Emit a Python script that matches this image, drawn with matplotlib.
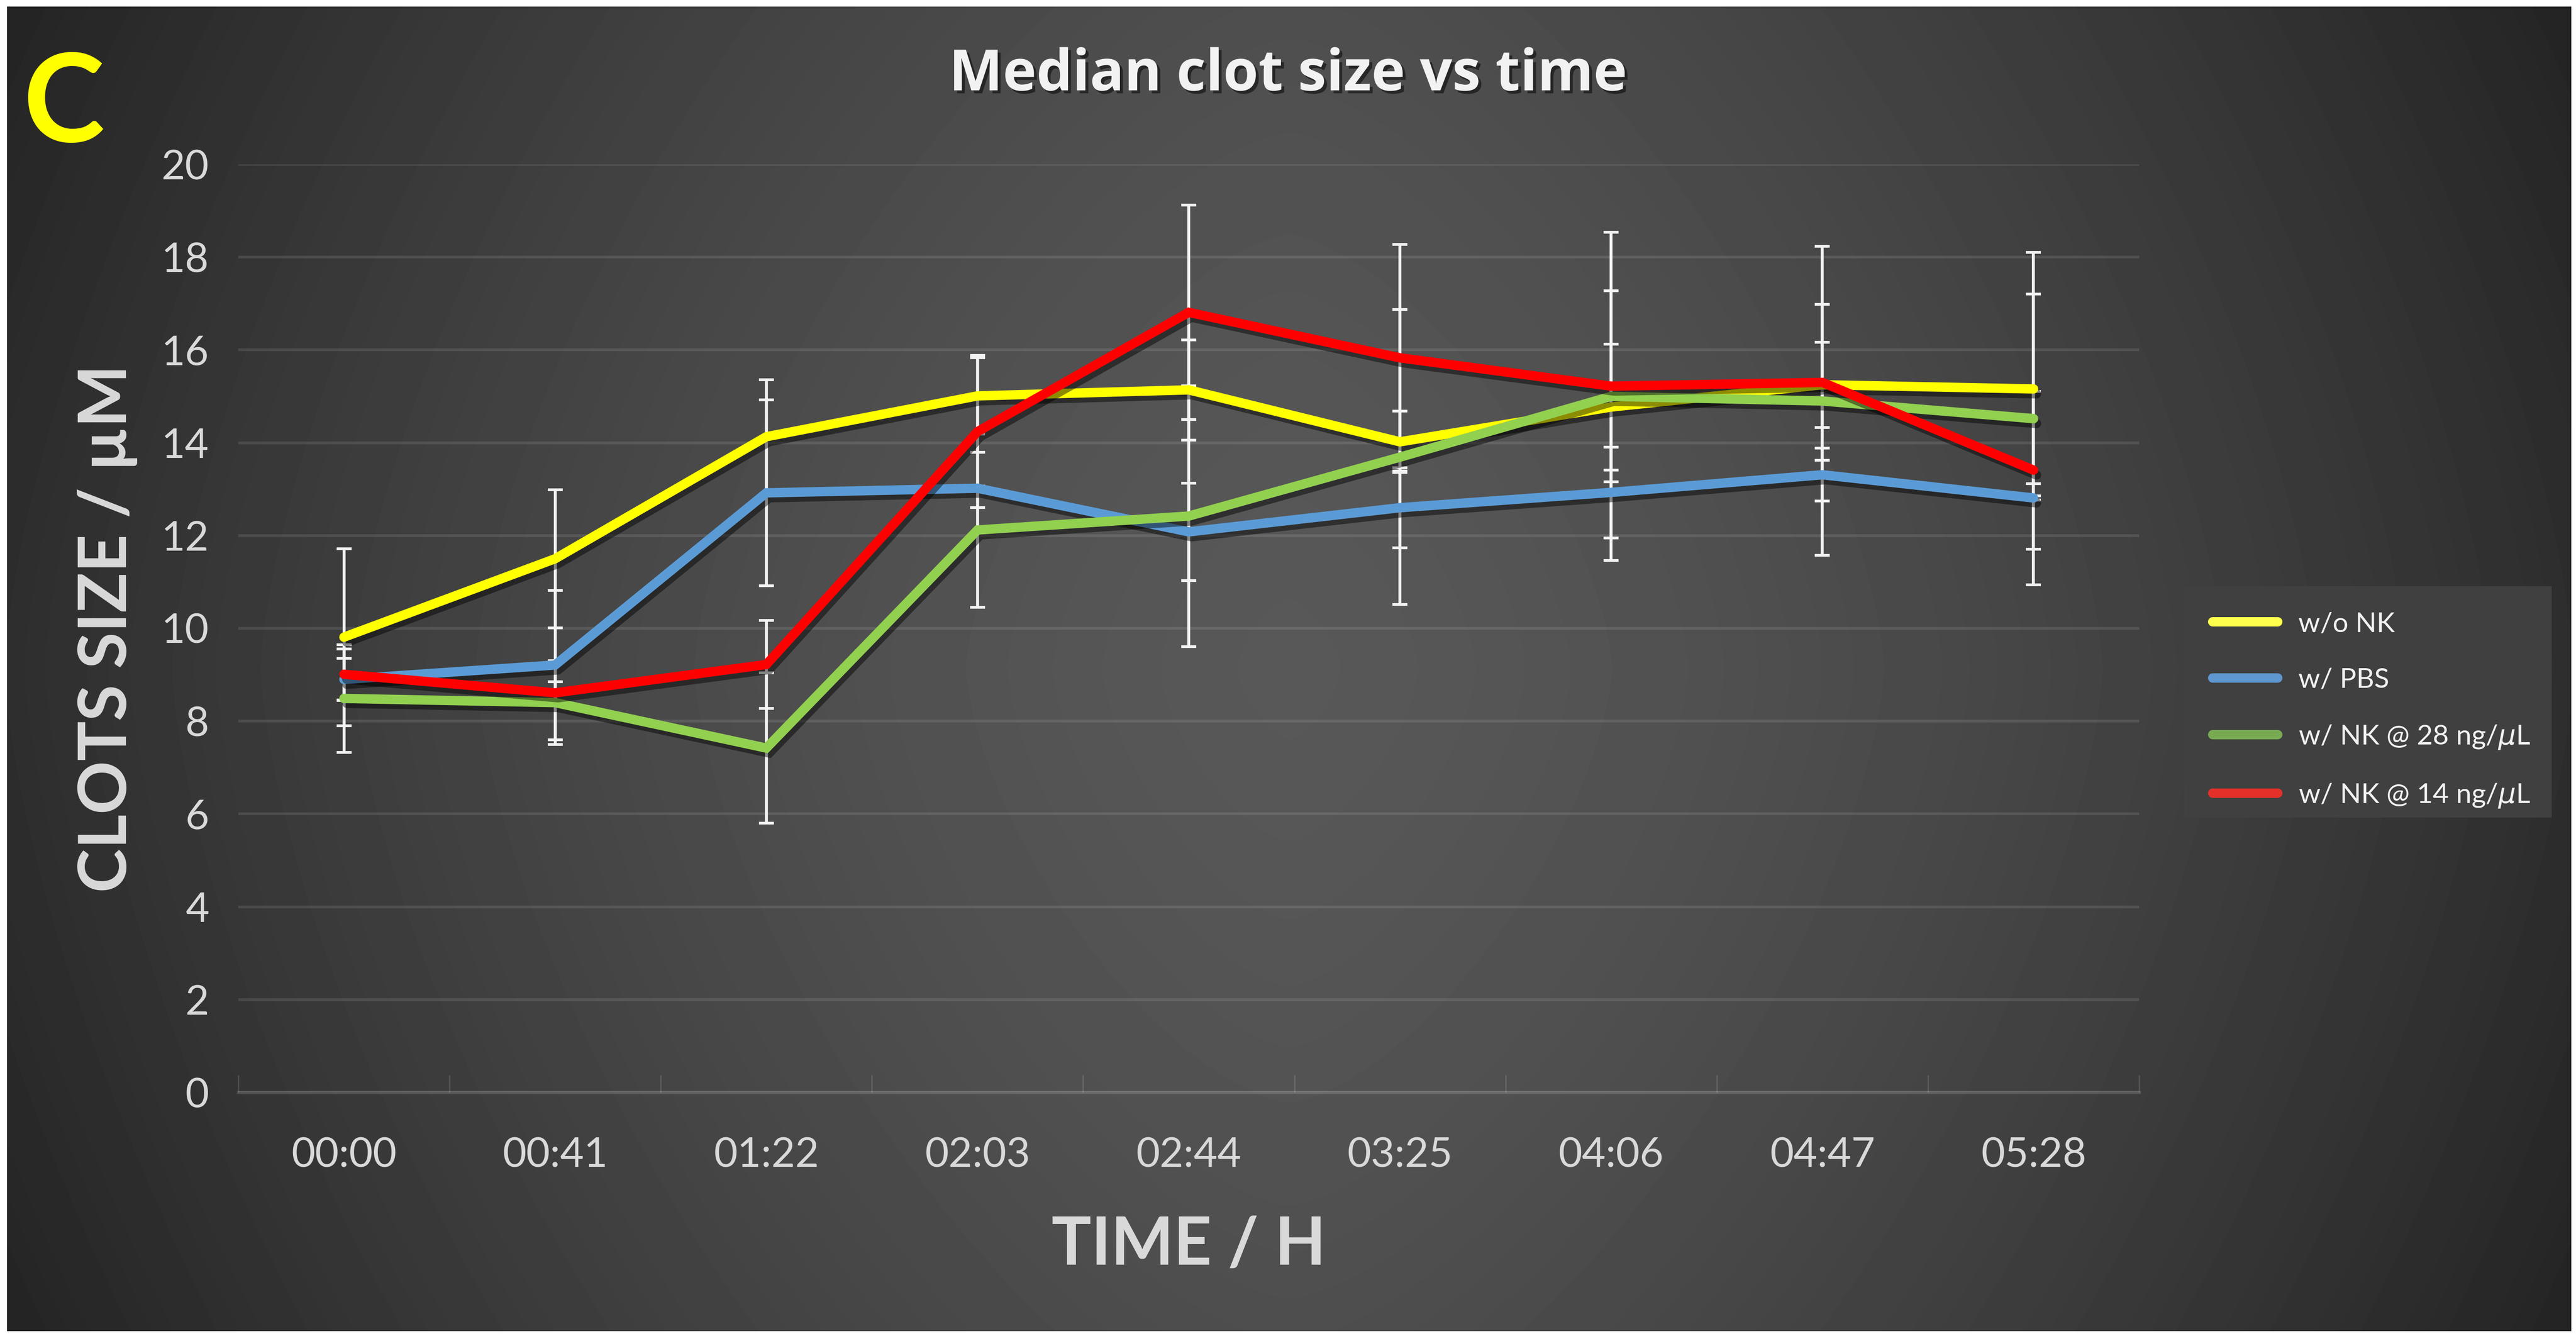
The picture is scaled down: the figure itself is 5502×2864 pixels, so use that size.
import numpy as np
import matplotlib
matplotlib.use("Agg")
import matplotlib.pyplot as plt
import matplotlib.patheffects as pe
from matplotlib.lines import Line2D
from matplotlib.patches import Rectangle

plt.rcParams['font.family'] = ['Lato', 'DejaVu Sans']

# data
times = ["00:00", "00:41", "01:22", "02:03", "02:44", "03:25", "04:06", "04:47", "05:28"]
labels = ["w/o NK", "w/ PBS", r"w/ NK @ 28 ng/$\mu$L", r"w/ NK @ 14 ng/$\mu$L"]

wo_nk = [9.81, 11.50, 14.13, 15.01, 15.14, 14.02, 14.77, 15.25, 15.16]
wo_nk_err = [1.91, 1.49, 1.23, 0.82, 1.08, 0.66, 1.36, 0.92, 2.04]
pbs = [8.90, 9.21, 12.92, 13.02, 12.08, 12.60, 12.93, 13.31, 12.81]
pbs_err = [0.45, 1.61, 2.00, 0.05, 1.05, 0.86, 0.98, 0.57, 0.05]
nk28 = [8.49, 8.40, 7.42, 12.12, 12.42, 13.69, 15.00, 14.90, 14.52]
nk28_err = [1.16, 0.90, 1.62, 1.67, 2.81, 3.18, 3.54, 3.33, 3.58]
nk14 = [9.01, 8.61, 9.22, 14.24, 16.81, 15.83, 15.22, 15.30, 13.41]
nk14_err = [0.55, 0.24, 0.95, 1.64, 2.31, 2.44, 2.06, 1.68, 1.70]

line_colors = ["#ffff00", "#5b9bd5", "#92d050", "#ff0000"]
legend_colors = ["#ffff4d", "#5f97d0", "#78aa52", "#e5302a"]

W, H = 5502, 2864
DPI = 300
fig = plt.figure(figsize=(W / DPI, H / DPI), dpi=DPI, facecolor="white")

# dark radial-ish background
bg = fig.add_axes([15 / W, 21 / H, (5492 - 15) / W, (2843 - 14) / H])
gx = np.abs(np.linspace(-1, 1, 800))
gy = np.abs(np.linspace(-1, 1, 400))
grad = 88 - 42 * gx[None, :] ** 1.5 - 10 * gy[:, None] ** 1.5
bg.imshow(grad / 255, cmap="gray", vmin=0, vmax=1, aspect="auto", interpolation="bilinear")
bg.axis("off")

ax = fig.add_axes([509 / W, 1 - 2333 / H, (4569 - 509) / W, (2333 - 351) / H])
ax.set_facecolor("none")
x = np.arange(len(times))

series = [(wo_nk, wo_nk_err), (pbs, pbs_err), (nk28, nk28_err), (nk14, nk14_err)]
for vals, errs in series:
    ax.errorbar(x, vals, yerr=errs, fmt="none", ecolor="#f2f2f2", elinewidth=1.5,
                capsize=3.8, capthick=1.4, zorder=3)

shadow = [pe.SimpleLineShadow(offset=(1.5, -2.5), shadow_color="black", alpha=0.45), pe.Normal()]
for i, (vals, errs) in enumerate(series):
    ax.plot(x, vals, color=line_colors[i], lw=4.8, solid_capstyle="round",
            solid_joinstyle="miter", zorder=4 + i, path_effects=shadow)

ax.set_xlim(-0.5, 8.5)
ax.set_ylim(0, 20)
ax.set_yticks(range(0, 21, 2))
ax.yaxis.grid(True, color="white", alpha=0.1, lw=1.4)
ax.set_axisbelow(True)
for s in ["left", "right", "top"]:
    ax.spines[s].set_visible(False)
ax.spines["bottom"].set_color((1, 1, 1, 0.13))
ax.spines["bottom"].set_linewidth(1.6)

ax.set_xticks(x)
ax.set_xticklabels(times)
ax.set_xticks(np.arange(-0.5, 9, 1), minor=True)
ax.tick_params(axis="y", length=0, pad=15, labelsize=21, labelcolor="#d9d9d9")
ax.tick_params(axis="x", which="major", length=0, pad=23, labelsize=21, labelcolor="#d9d9d9")
ax.tick_params(axis="x", which="minor", length=9, width=0.7, direction="in", color=(1, 1, 1, 0.13))

xc = (509 + 4569) / 2 / W
fig.text(xc, 1 - 2700 / H, "TIME / H", ha="center", va="baseline",
         fontsize=34, fontweight="bold", color="#d9d9d9")
fig.text(270 / W, 1 - 1342 / H, "CLOTS SIZE / \u00b5M", ha="center", va="baseline",
         rotation=90, rotation_mode="anchor", fontsize=34, fontweight="bold", color="#d9d9d9")
fig.text(0.5, 1 - 193 / H, "Median clot size vs time", ha="center", va="baseline",
         fontsize=29.2, fontweight="bold", color="#f2f2f2", family=["Open Sans", "DejaVu Sans"],
         path_effects=[pe.withSimplePatchShadow(offset=(1.5, -1.5), shadow_rgbFace="black", alpha=0.5)])
fig.text(137 / W, 1 - 303 / H, "C", ha="center", va="baseline",
         fontsize=63, fontweight="bold", color="#ffff00")

# legend box drawn separately, entries placed inside it
fig.patches.append(Rectangle((4665 / W, 1 - 1746 / H), (5450 - 4665) / W, (1746 - 1252) / H,
                             transform=fig.transFigure, facecolor="#404040", edgecolor="none",
                             zorder=1))
handles = [Line2D([], [], color=c, lw=4.8, solid_capstyle="round") for c in legend_colors]
leg = fig.legend(handles, labels, loc="upper left", bbox_to_anchor=(4726 / W, 1 - 1306 / H),
                 frameon=False, fontsize=14.2, labelcolor="#f2f2f2", handlelength=2.35,
                 handletextpad=0.75, labelspacing=1.12, borderpad=0, borderaxespad=0)
leg.set_zorder(2)

fig.savefig("out.png", dpi=DPI, facecolor="white")
